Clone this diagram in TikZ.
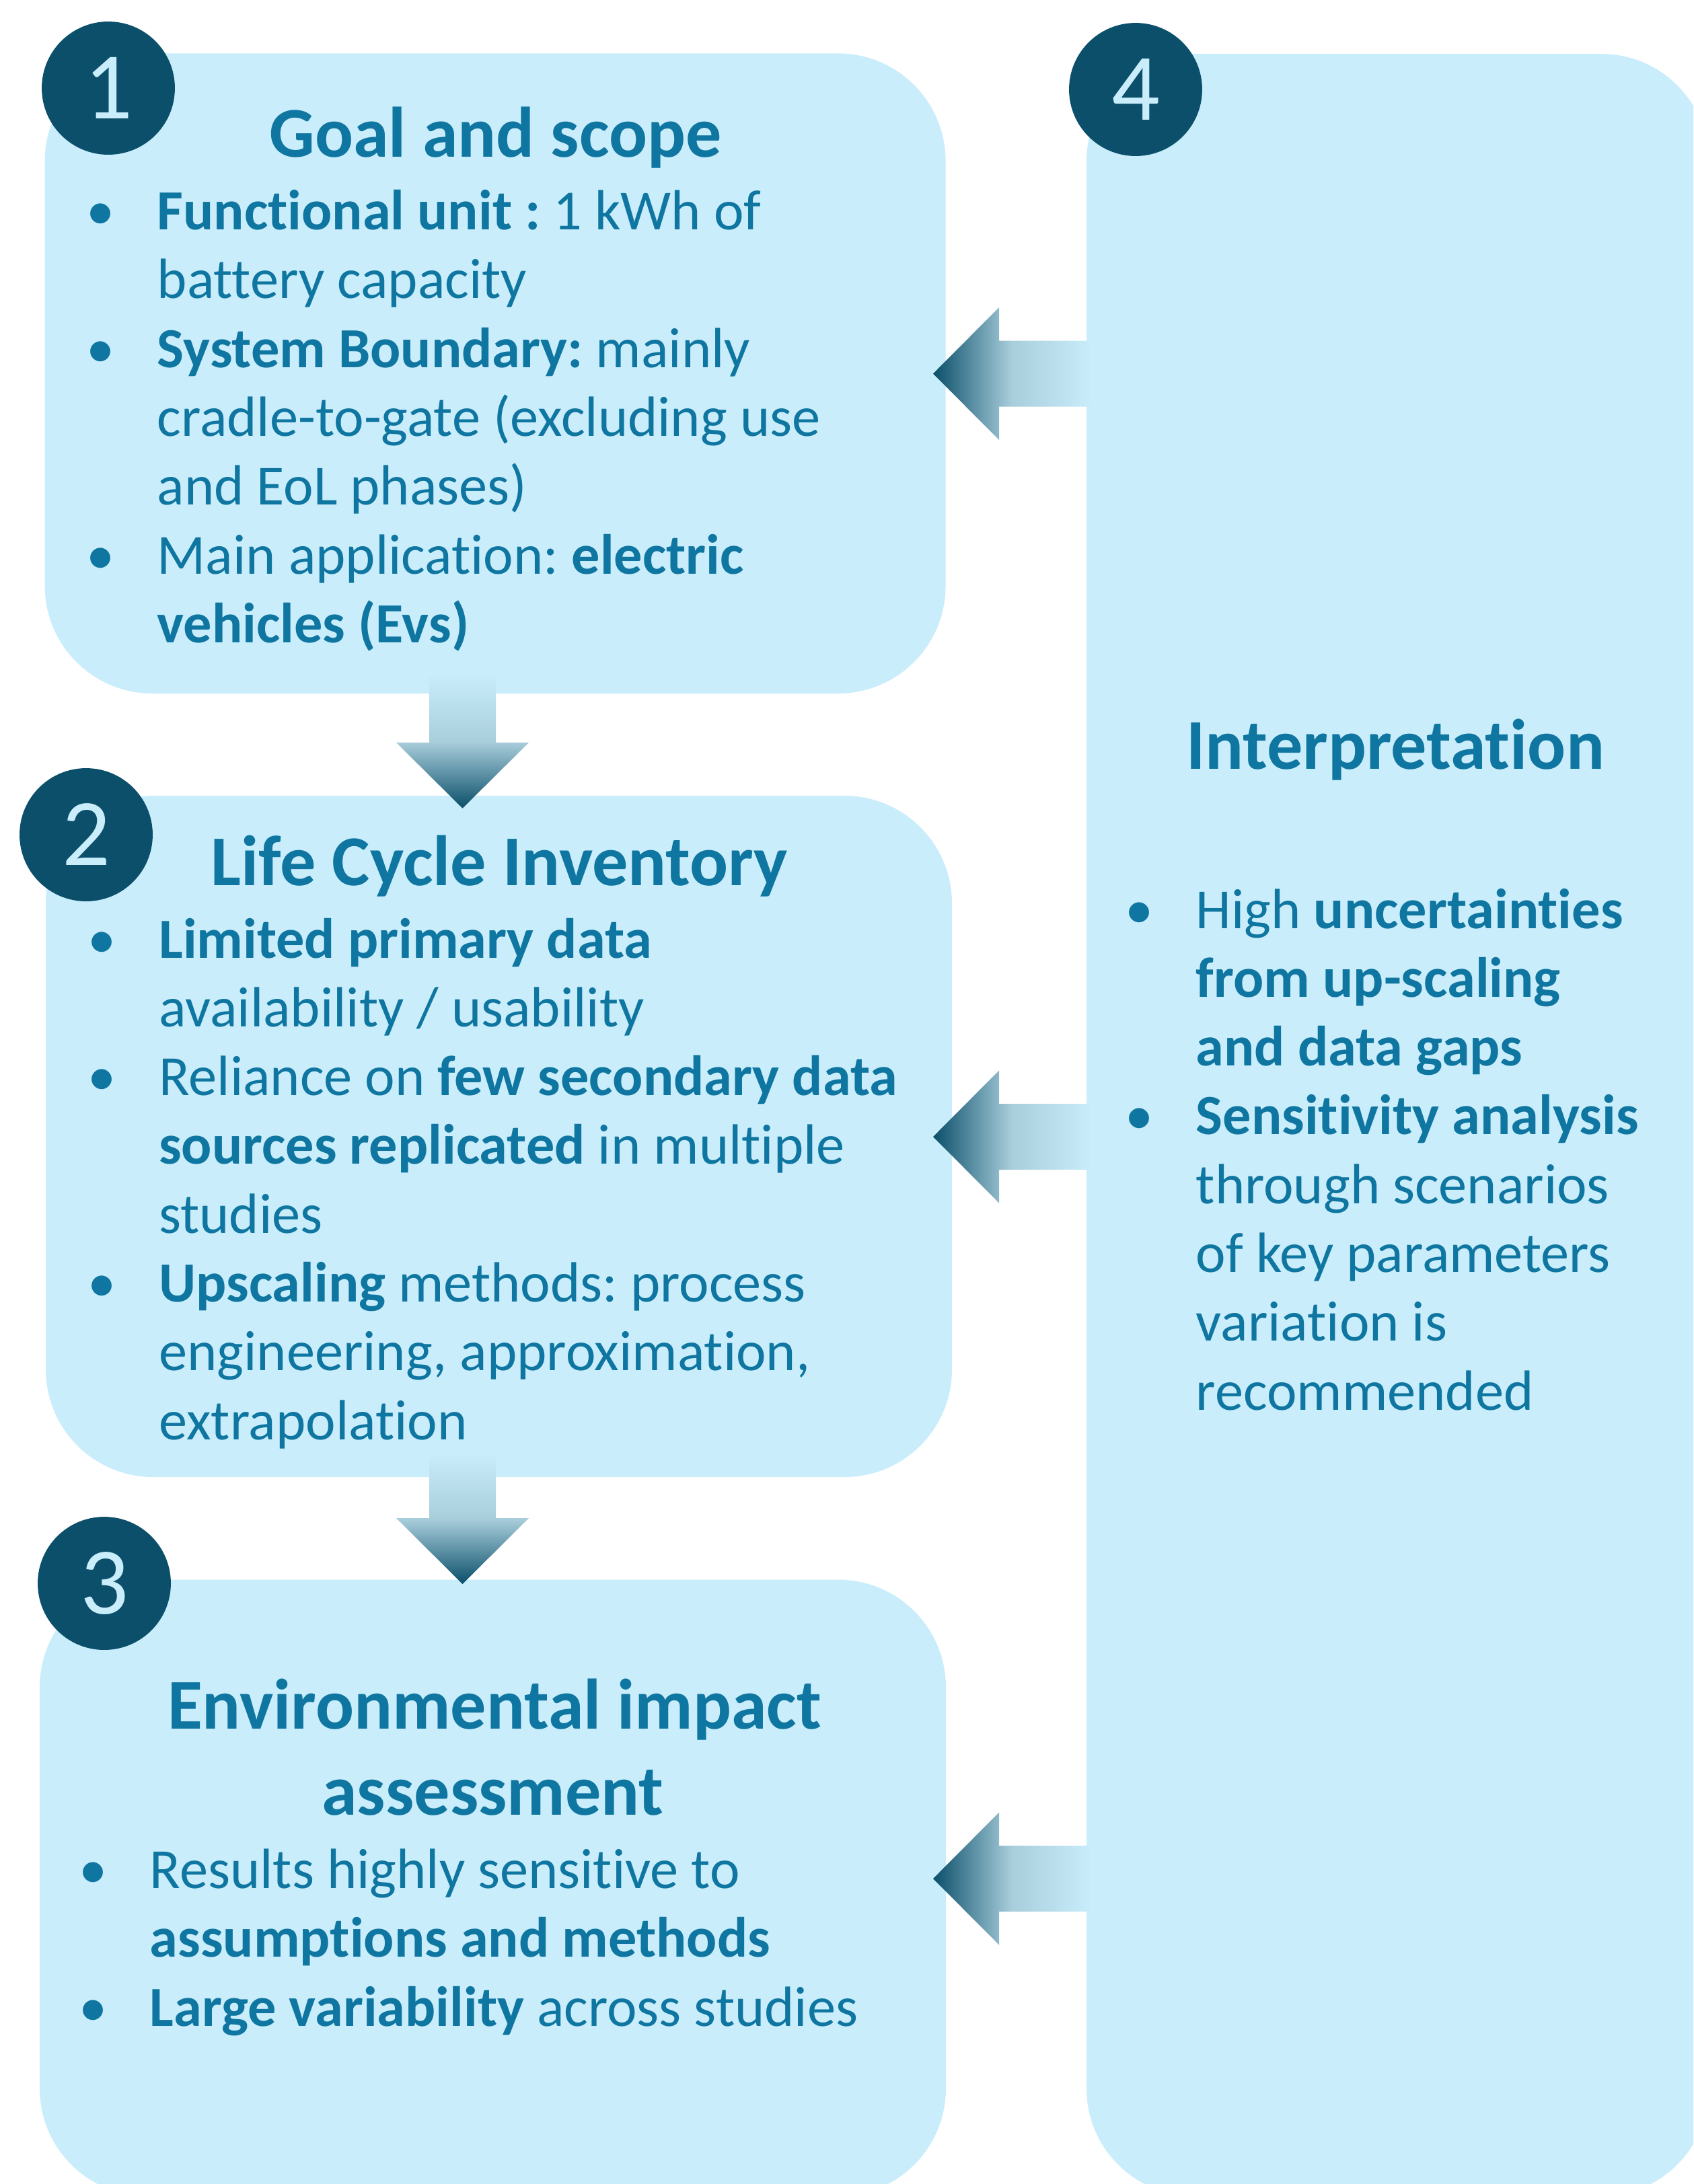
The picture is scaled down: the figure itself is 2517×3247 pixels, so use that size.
\documentclass[tikz,border=0pt]{standalone}
\usepackage{fontspec}
\setmainfont{Carlito}[Ligatures=NoCommon]
\usetikzlibrary{calc}
\definecolor{boxfill}{HTML}{CAEDFB}
\definecolor{dkblue}{HTML}{0B4F6A}
\definecolor{txtblue}{HTML}{0E76A0}
\definecolor{arrmid}{HTML}{A8CDDB}
\definecolor{arrlt}{HTML}{C8ECFA}
\pgfdeclarehorizontalshading{larrow}{100bp}{color(0bp)=(dkblue); color(25bp)=(dkblue); color(50bp)=(arrmid); color(75bp)=(arrlt); color(100bp)=(arrlt)}
\pgfdeclareverticalshading{darrow}{100bp}{color(0bp)=(dkblue); color(25bp)=(dkblue); color(50bp)=(arrmid); color(75bp)=(arrlt); color(100bp)=(arrlt)}
\newcommand\bodyfont{\fontsize{20.25pt}{24.55pt}\selectfont\frenchspacing}
\newcommand\titlefont{\fontsize{25.5pt}{30.7pt}\selectfont\bfseries\frenchspacing}
\newcommand\numfont{\fontsize{34pt}{40pt}\selectfont}
\newcommand\bul{\llap{\makebox[0pt]{•}\hspace{20.3pt}}}
\newcommand\tline[1]{\hbox{#1}}
\newcommand\larr[1]{\shade[shading=larrow] (1387,#1) -- (1485,{#1-98.5}) -- (1485,{#1-49}) -- (1620,{#1-49}) -- (1620,{#1+49}) -- (1485,{#1+49}) -- (1485,{#1+98.5}) -- cycle;}
\newcommand\darr[3]{\shade[shading=darrow] (638,#1) -- (737,#1) -- (737,#2) -- (786,#2) -- (687.5,#3) -- (589,#2) -- (638,#2) -- cycle;}
\tikzset{
  box/.style={rectangle, fill=boxfill, inner sep=0pt, outer sep=0pt, rounded corners=38.4pt},
  numc/.style={circle, fill=dkblue, minimum size=47.5pt, inner sep=0pt, text=boxfill, font=\numfont},
  title/.style={anchor=base, inner sep=0pt, text=txtblue, font=\titlefont},
  body/.style={anchor=base west, inner sep=0pt, text=txtblue, font=\bodyfont}
}
\begin{document}
\begin{tikzpicture}[x=0.24pt,y=-0.24pt]
\useasboundingbox (0,0) rectangle (2517,3247);
\begin{scope}
\clip (0,0) rectangle (2517,3247);
% boxes
\node[box, minimum width=321.36pt, minimum height=228.4pt] (b1) at (736.1,555.2) {};
\node[box, minimum width=323.28pt, minimum height=243.12pt] (b2) at (741.5,1689.5) {};
\node[box, minimum width=323.28pt, minimum height=219.96pt] (b3) at (732.5,2806.75) {};
\node[box, minimum width=222pt, minimum height=764.4pt] (b4) at (2077.5,1672.5) {};
% arrows
\darr{1005}{1104}{1201.7}
\darr{2162}{2257}{2355}
\larr{555.5}
\larr{1690}
\larr{2793}
% number circles
\node[numc] (c1) at (161,131) {1};
\node[numc] (c2) at (128,1241) {2};
\node[numc] (c3) at (155,2354) {3};
\node[numc] (c4) at (1688,133) {4};
% titles
\node[title] (h1) at (736.5,233.6) {Goal and scope};
\node[title] (h2) at (742.5,1316.6) {Life Cycle Inventory};
\node[title] (h3a) at (735,2570) {Environmental impact};
\node[title] (h3b) at (732.5,2698) {assessment};
\node[title] (h4) at (2074,1143) {Interpretation};
% texts
\node[body] (t1) at (233,341.6) {\vtop{%
\tline{\bul\textbf{Functional unit :} 1 kWh of}
\tline{battery capacity}
\tline{\bul\textbf{System Boundary:} mainly}
\tline{cradle-to-gate (excluding use}
\tline{and EoL phases)}
\tline{\bul Main application: \textbf{electric}}
\tline{\textbf{vehicles (Evs)}}}};
\node[body] (t2) at (235.5,1424) {\vtop{%
\tline{\bul\textbf{Limited primary data}}
\tline{availability / usability}
\tline{\bul Reliance on \textbf{few secondary data}}
\tline{\textbf{sources replicated} in multiple}
\tline{studies}
\tline{\bul\textbf{Upscaling} methods: process}
\tline{engineering, approximation,}
\tline{extrapolation}}};
\node[body] (t3) at (222,2807.6) {\vtop{%
\tline{\bul Results highly sensitive to}
\tline{\textbf{assumptions and methods}}
\tline{\bul\textbf{Large variability} across studies}}};
\node[body] (t4) at (1777,1380) {\vtop{%
\tline{\bul High \textbf{uncertainties}}
\tline{\textbf{from up-scaling}}
\tline{\textbf{and data gaps}}
\tline{\bul\textbf{Sensitivity analysis}}
\tline{through scenarios}
\tline{of key parameters}
\tline{variation is}
\tline{recommended}}};
\end{scope}
\end{tikzpicture}
\end{document}
